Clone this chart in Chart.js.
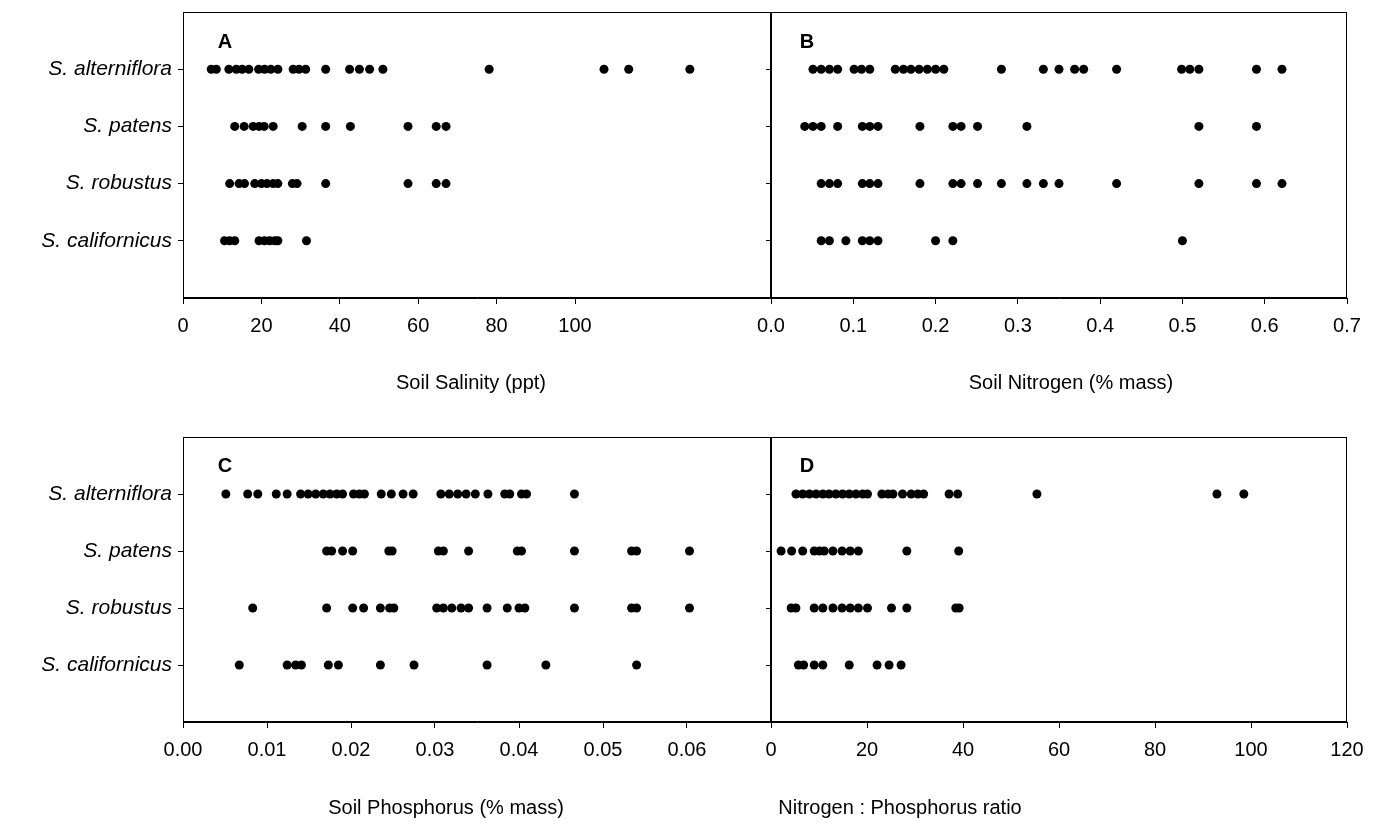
<!DOCTYPE html>
<html>
<head>
<meta charset="utf-8">
<script src="https://cdn.jsdelivr.net/npm/chart.js@4.4.1/dist/chart.umd.min.js"></script>
<style>
  html, body { margin: 0; padding: 0; background: #ffffff; }
  #wrap { position: relative; width: 1385px; height: 830px; overflow: hidden; }
  #wrap canvas { position: absolute; left: 0; top: 0; }
</style>
</head>
<body>
<div id="wrap">
  <canvas id="cA" width="1385" height="830"></canvas>
  <canvas id="cB" width="1385" height="830"></canvas>
  <canvas id="cC" width="1385" height="830"></canvas>
  <canvas id="cD" width="1385" height="830"></canvas>
</div>
<script>
// ---------- categories ----------
const species = ['S. alterniflora', 'S. patens', 'S. robustus', 'S. californicus'];

// ---------- A: Soil Salinity (ppt) ----------
const salinityAlterniflora = [7.2, 8.5, 11.7, 13.6, 15.1, 16.8, 19.3, 20.8, 22.4, 24.2, 28.1, 29.6, 31.3, 36.4, 42.5, 45.0, 47.6, 51.0, 78.1, 107.4, 113.7, 129.3];
const salinityPatens = [13.2, 15.6, 17.9, 19.4, 20.7, 23.0, 30.4, 36.4, 42.7, 57.4, 64.6, 67.1];
const salinityRobustus = [11.9, 14.3, 15.7, 18.3, 20.0, 21.4, 23.0, 24.2, 27.9, 29.1, 36.4, 57.4, 64.6, 67.1];
const salinityCalifornicus = [10.6, 11.9, 13.2, 19.4, 20.8, 22.1, 23.4, 24.2, 31.5];

// ---------- B: Soil Nitrogen (% mass) ----------
const nitrogenAlterniflora = [0.051, 0.061, 0.071, 0.081, 0.101, 0.110, 0.120, 0.151, 0.161, 0.170, 0.180, 0.190, 0.200, 0.210, 0.280, 0.331, 0.350, 0.369, 0.380, 0.420, 0.499, 0.509, 0.520, 0.590, 0.621];
const nitrogenPatens = [0.041, 0.051, 0.061, 0.081, 0.111, 0.120, 0.130, 0.181, 0.221, 0.231, 0.251, 0.311, 0.520, 0.590];
const nitrogenRobustus = [0.061, 0.071, 0.081, 0.111, 0.120, 0.130, 0.181, 0.221, 0.231, 0.251, 0.280, 0.311, 0.331, 0.350, 0.420, 0.520, 0.590, 0.621];
const nitrogenCalifornicus = [0.061, 0.071, 0.091, 0.111, 0.120, 0.130, 0.200, 0.221, 0.500];

// ---------- C: Soil Phosphorus (% mass) ----------
const phosphorusAlterniflora = [0.0051, 0.0077, 0.0089, 0.0111, 0.0124, 0.0140, 0.0149, 0.0158, 0.0167, 0.0175, 0.0183, 0.0190, 0.0203, 0.0210, 0.0216, 0.0236, 0.0248, 0.0262, 0.0274, 0.0307, 0.0317, 0.0327, 0.0337, 0.0348, 0.0363, 0.0383, 0.0389, 0.0403, 0.0409, 0.0466];
const phosphorusPatens = [0.0171, 0.0177, 0.0190, 0.0202, 0.0245, 0.0249, 0.0304, 0.0310, 0.0340, 0.0398, 0.0403, 0.0466, 0.0534, 0.0540, 0.0603];
const phosphorusRobustus = [0.0083, 0.0171, 0.0202, 0.0215, 0.0235, 0.0246, 0.0251, 0.0302, 0.0310, 0.0320, 0.0331, 0.0340, 0.0362, 0.0386, 0.0400, 0.0407, 0.0466, 0.0534, 0.0540, 0.0603];
const phosphorusCalifornicus = [0.0067, 0.0124, 0.0134, 0.0141, 0.0173, 0.0185, 0.0235, 0.0275, 0.0362, 0.0432, 0.0540];

// ---------- D: Nitrogen : Phosphorus ratio ----------
const ratioAlterniflora = [5.2, 6.6, 8.0, 9.4, 10.8, 12.1, 13.5, 14.9, 16.3, 17.7, 19.1, 20.1, 23.1, 24.4, 25.4, 27.4, 29.2, 30.6, 31.8, 37.1, 38.9, 55.4, 92.9, 98.5];
const ratioPatens = [2.1, 4.3, 6.6, 9.0, 10.1, 11.1, 12.9, 14.8, 16.5, 18.2, 28.3, 39.1];
const ratioRobustus = [4.2, 5.2, 9.0, 10.8, 12.9, 14.8, 16.5, 18.2, 20.1, 25.1, 28.3, 38.5, 39.2];
const ratioCalifornicus = [5.7, 6.8, 9.0, 10.8, 16.3, 22.1, 24.6, 27.1];

// ---------- tick labels ----------
const ticksA = [0, 20, 40, 60, 80, 100];
const ticksB = [0, 0.1, 0.2, 0.3, 0.4, 0.5, 0.6, 0.7];
const ticksC = [0, 0.01, 0.02, 0.03, 0.04, 0.05, 0.06];
const ticksD = [0, 20, 40, 60, 80, 100, 120];

const FONT = "'Liberation Sans', Arial, Helvetica, sans-serif";
const W = 1385, H = 830;

function makePanel(id, opt) {
  const datasets = opt.series.map((vals, i) => ({
    label: species[i],
    data: vals.map(v => ({ x: v, y: i + 1 })),
    backgroundColor: '#000000',
    borderColor: '#000000',
    pointRadius: 4.5,
    pointHoverRadius: 4.5,
    borderWidth: 0
  }));
  const deco = {
    id: 'deco_' + id,
    afterDraw(chart) {
      const ctx = chart.ctx;
      const a = chart.chartArea;
      ctx.save();
      ctx.strokeStyle = '#000000';
      ctx.lineWidth = 1;
      ctx.strokeRect(Math.round(a.left) + 0.5, Math.round(a.top) + 0.5,
                     Math.round(a.right - a.left) - 1, Math.round(a.bottom - a.top) - 1);
      ctx.fillStyle = '#000000';
      ctx.textBaseline = 'middle';
      ctx.textAlign = 'center';
      ctx.font = 'bold 20px ' + FONT;
      ctx.fillText(opt.letter, opt.letterPos[0], opt.letterPos[1]);
      ctx.font = '20px ' + FONT;
      ctx.fillText(opt.title, opt.titlePos[0], opt.titlePos[1]);
      ctx.restore();
    }
  };
  return new Chart(document.getElementById(id), {
    type: 'scatter',
    data: { datasets },
    plugins: [deco],
    options: {
      responsive: false,
      animation: false,
      devicePixelRatio: 1,
      layout: { padding: { left: 0, top: opt.top, right: W - opt.right, bottom: 0 } },
      plugins: { legend: { display: false }, tooltip: { enabled: false }, title: { display: false } },
      scales: {
        x: {
          type: 'linear',
          min: opt.xmin,
          max: opt.xmax,
          afterFit(scale) { scale.height = H - opt.bottom; scale.paddingLeft = 0; scale.paddingRight = 0; },
          afterBuildTicks(scale) { scale.ticks = opt.ticks.map(v => ({ value: v })); },
          grid: { drawOnChartArea: false, drawTicks: true, tickLength: 6, color: '#000000' },
          border: { display: true, color: '#000000', width: 1 },
          ticks: {
            autoSkip: false, maxRotation: 0, minRotation: 0, padding: 10,
            color: '#000000',
            font: { family: FONT, size: 20 },
            callback: (v) => opt.fmt(v)
          }
        },
        y: {
          type: 'linear',
          min: 0,
          max: 5,
          reverse: true,
          afterFit(scale) { scale.width = opt.left; scale.paddingTop = 0; scale.paddingBottom = 0; },
          afterBuildTicks(scale) { scale.ticks = [1, 2, 3, 4].map(v => ({ value: v })); },
          grid: { drawOnChartArea: false, drawTicks: true, tickLength: 5, color: '#000000' },
          border: { display: true, color: '#000000', width: 1 },
          ticks: {
            padding: 6,
            color: '#000000',
            font: { family: FONT, size: 21, style: 'italic' },
            callback: (v) => opt.showY ? (species[v - 1] || '') : ''
          }
        }
      }
    }
  });
}

makePanel('cA', {
  series: [salinityAlterniflora, salinityPatens, salinityRobustus, salinityCalifornicus],
  left: 183, right: 771, top: 12, bottom: 298,
  xmin: 0, xmax: 150, ticks: ticksA, fmt: v => String(v),
  showY: true, letter: 'A', letterPos: [225, 42],
  title: 'Soil Salinity (ppt)', titlePos: [471, 383]
});
makePanel('cB', {
  series: [nitrogenAlterniflora, nitrogenPatens, nitrogenRobustus, nitrogenCalifornicus],
  left: 771, right: 1347, top: 12, bottom: 298,
  xmin: 0, xmax: 0.7, ticks: ticksB, fmt: v => v.toFixed(1),
  showY: false, letter: 'B', letterPos: [807, 42],
  title: 'Soil Nitrogen (% mass)', titlePos: [1071, 383]
});
makePanel('cC', {
  series: [phosphorusAlterniflora, phosphorusPatens, phosphorusRobustus, phosphorusCalifornicus],
  left: 183, right: 771, top: 437, bottom: 722,
  xmin: 0, xmax: 0.07, ticks: ticksC, fmt: v => v.toFixed(2),
  showY: true, letter: 'C', letterPos: [225, 466],
  title: 'Soil Phosphorus (% mass)', titlePos: [446, 808]
});
makePanel('cD', {
  series: [ratioAlterniflora, ratioPatens, ratioRobustus, ratioCalifornicus],
  left: 771, right: 1347, top: 437, bottom: 722,
  xmin: 0, xmax: 120, ticks: ticksD, fmt: v => String(v),
  showY: false, letter: 'D', letterPos: [807, 466],
  title: 'Nitrogen : Phosphorus ratio', titlePos: [900, 808]
});
</script>
</body>
</html>
